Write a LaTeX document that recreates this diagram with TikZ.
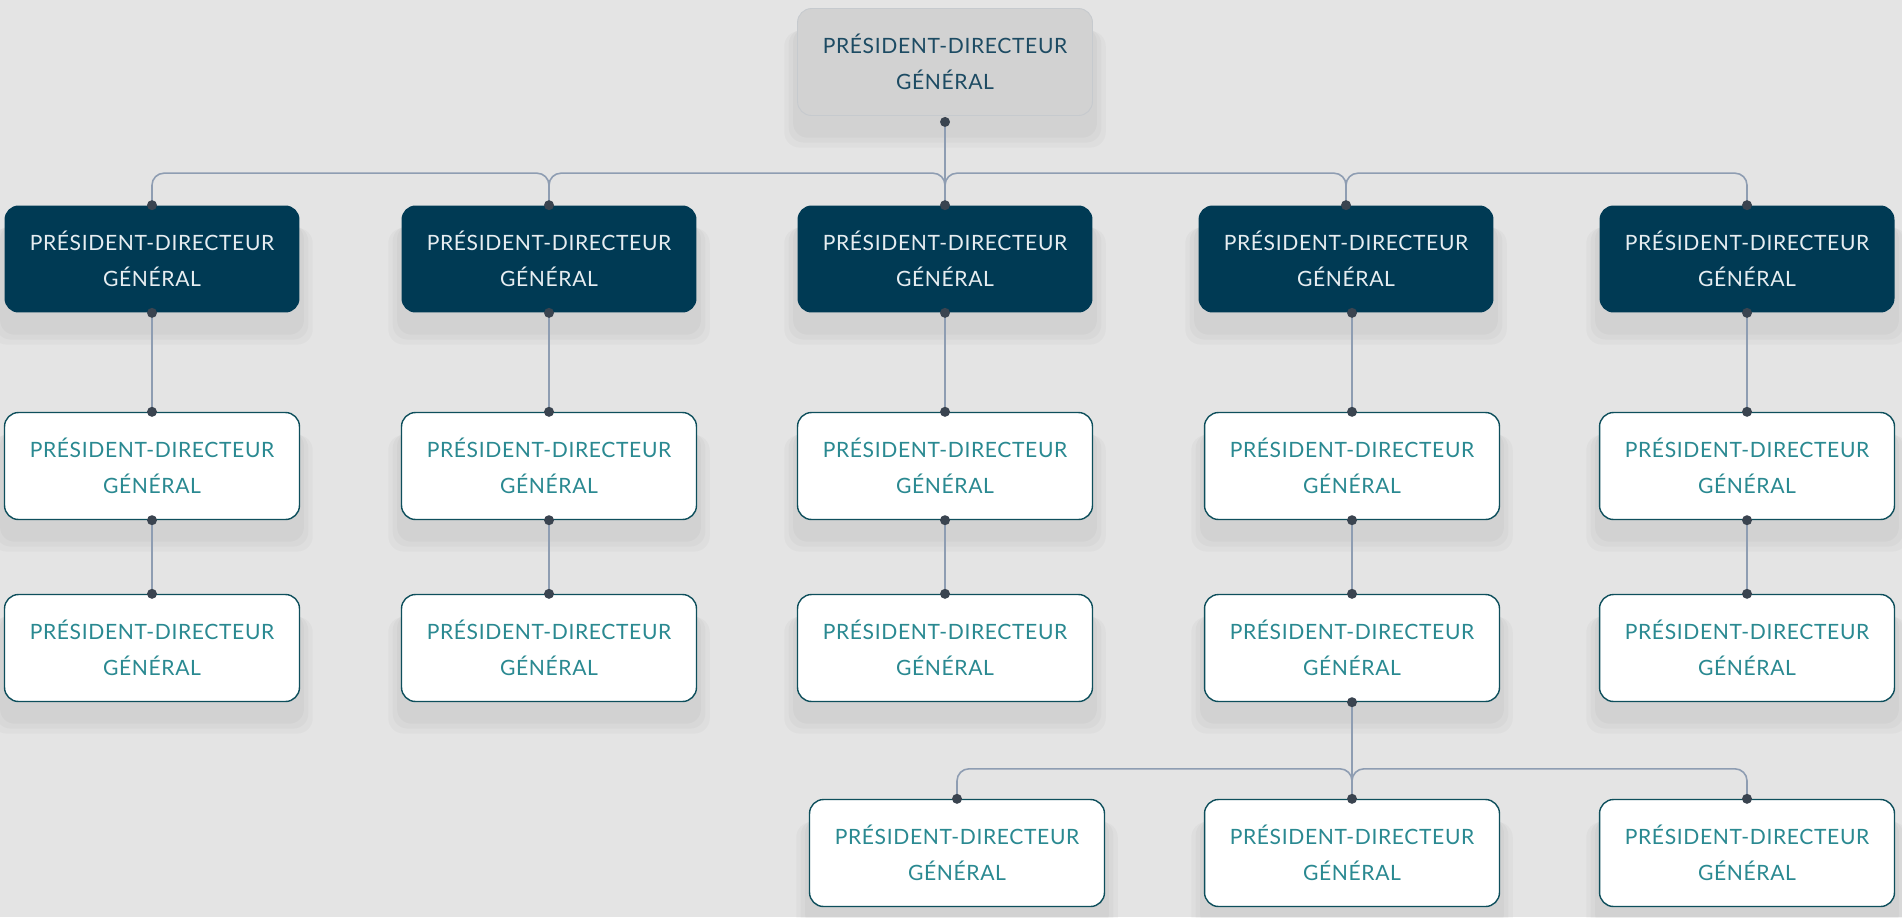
\documentclass[tikz,border=0pt]{standalone}
\usepackage{fontspec}
\setmainfont{Lato}[LetterSpace=3]
\usetikzlibrary{shadows}
\definecolor{bgcol}{HTML}{E4E4E4}
\definecolor{rootgray}{HTML}{D2D2D2}
\definecolor{rootline}{HTML}{C6CACE}
\definecolor{rootblue}{HTML}{1D4B63}
\definecolor{navy}{HTML}{003A54}
\definecolor{headtext}{HTML}{E6EDF1}
\definecolor{tealline}{HTML}{0E4F5C}
\definecolor{tealtext}{HTML}{2A8991}
\definecolor{linkcol}{HTML}{8E9DB2}
\definecolor{dotcol}{HTML}{3A4450}
\tikzset{
  box/.style={rounded corners=0.28cm, minimum width=5.9cm, minimum height=2.14cm,
    inner sep=0pt, align=center, font=\fontsize{12}{20.6}\selectfont,
    general shadow={shadow scale=1.09, shadow yshift=-0.5cm, fill=black, opacity=0.022},
    general shadow={shadow scale=1.06, shadow yshift=-0.45cm, fill=black, opacity=0.022},
    general shadow={shadow scale=1.03, shadow yshift=-0.4cm, fill=black, opacity=0.025}},
  rootbox/.style={box, fill=rootgray, draw=rootline, line width=0.5pt, text=rootblue},
  headbox/.style={box, fill=navy, text=headtext},
  staffbox/.style={box, fill=white, draw=tealline, line width=0.8pt, text=tealtext},
  link/.style={draw=linkcol, line width=0.9pt, rounded corners=0.24cm},
  dot/.style={circle, fill=dotcol, inner sep=0pt, minimum size=0.2cm},
}
\begin{document}
\begin{tikzpicture}[x=0.02cm, y=-0.02cm]
  \fill[bgcol] (0,0) rectangle (1902,917);
  \useasboundingbox (0,0) rectangle (1902,917);
  % top
  \node[rootbox] (root) at (945,62) {PRÉSIDENT-DIRECTEUR\\GÉNÉRAL};
  % first row
  \node[headbox] (h1) at (152,259)  {PRÉSIDENT-DIRECTEUR\\GÉNÉRAL};
  \node[headbox] (h2) at (549,259)  {PRÉSIDENT-DIRECTEUR\\GÉNÉRAL};
  \node[headbox] (h3) at (945,259)  {PRÉSIDENT-DIRECTEUR\\GÉNÉRAL};
  \node[headbox] (h4) at (1346,259) {PRÉSIDENT-DIRECTEUR\\GÉNÉRAL};
  \node[headbox] (h5) at (1747,259) {PRÉSIDENT-DIRECTEUR\\GÉNÉRAL};
  % second row
  \node[staffbox] (a1) at (152,466)  {PRÉSIDENT-DIRECTEUR\\GÉNÉRAL};
  \node[staffbox] (a2) at (549,466)  {PRÉSIDENT-DIRECTEUR\\GÉNÉRAL};
  \node[staffbox] (a3) at (945,466)  {PRÉSIDENT-DIRECTEUR\\GÉNÉRAL};
  \node[staffbox] (a4) at (1352,466) {PRÉSIDENT-DIRECTEUR\\GÉNÉRAL};
  \node[staffbox] (a5) at (1747,466) {PRÉSIDENT-DIRECTEUR\\GÉNÉRAL};
  % third row
  \node[staffbox] (b1) at (152,648)  {PRÉSIDENT-DIRECTEUR\\GÉNÉRAL};
  \node[staffbox] (b2) at (549,648)  {PRÉSIDENT-DIRECTEUR\\GÉNÉRAL};
  \node[staffbox] (b3) at (945,648)  {PRÉSIDENT-DIRECTEUR\\GÉNÉRAL};
  \node[staffbox] (b4) at (1352,648) {PRÉSIDENT-DIRECTEUR\\GÉNÉRAL};
  \node[staffbox] (b5) at (1747,648) {PRÉSIDENT-DIRECTEUR\\GÉNÉRAL};
  % fourth row
  \node[staffbox] (c1) at (957,853)  {PRÉSIDENT-DIRECTEUR\\GÉNÉRAL};
  \node[staffbox] (c2) at (1352,853) {PRÉSIDENT-DIRECTEUR\\GÉNÉRAL};
  \node[staffbox] (c3) at (1747,853) {PRÉSIDENT-DIRECTEUR\\GÉNÉRAL};
  % links
  \coordinate (rd) at ([yshift=-0.12cm]root.south);
  \coordinate (h4d) at (h4.south -| a4.north);
  \draw[link] (rd) -- (h3.north);
  \draw[link] (h1.north) -- ++(0,-32) -| (h2.north);
  \draw[link] (h2.north) -- ++(0,-32) -| (h3.north);
  \draw[link] (h3.north) -- ++(0,-32) -| (h4.north);
  \draw[link] (h4.north) -- ++(0,-32) -| (h5.north);
  \draw[link] (h1.south) -- (a1.north);
  \draw[link] (h2.south) -- (a2.north);
  \draw[link] (h3.south) -- (a3.north);
  \draw[link] (h4d) -- (a4.north);
  \draw[link] (h5.south) -- (a5.north);
  \draw[link] (a1.south) -- (b1.north);
  \draw[link] (a2.south) -- (b2.north);
  \draw[link] (a3.south) -- (b3.north);
  \draw[link] (a4.south) -- (b4.north);
  \draw[link] (a5.south) -- (b5.north);
  \draw[link] (b4.south) -- (c2.north);
  \draw[link] (c1.north) -- ++(0,-30) -| (c2.north);
  \draw[link] (c2.north) -- ++(0,-30) -| (c3.north);
  % dots
  \node[dot] at (rd) {};
  \node[dot] at (h1.north) {}; \node[dot] at (h2.north) {}; \node[dot] at (h3.north) {};
  \node[dot] at (h4.north) {}; \node[dot] at (h5.north) {};
  \node[dot] at (h1.south) {}; \node[dot] at (h2.south) {}; \node[dot] at (h3.south) {};
  \node[dot] at (h4d) {};      \node[dot] at (h5.south) {};
  \node[dot] at (a1.north) {}; \node[dot] at (a2.north) {}; \node[dot] at (a3.north) {};
  \node[dot] at (a4.north) {}; \node[dot] at (a5.north) {};
  \node[dot] at (a1.south) {}; \node[dot] at (a2.south) {}; \node[dot] at (a3.south) {};
  \node[dot] at (a4.south) {}; \node[dot] at (a5.south) {};
  \node[dot] at (b1.north) {}; \node[dot] at (b2.north) {}; \node[dot] at (b3.north) {};
  \node[dot] at (b4.north) {}; \node[dot] at (b5.north) {};
  \node[dot] at (b4.south) {};
  \node[dot] at (c1.north) {}; \node[dot] at (c2.north) {}; \node[dot] at (c3.north) {};
\end{tikzpicture}
\end{document}
